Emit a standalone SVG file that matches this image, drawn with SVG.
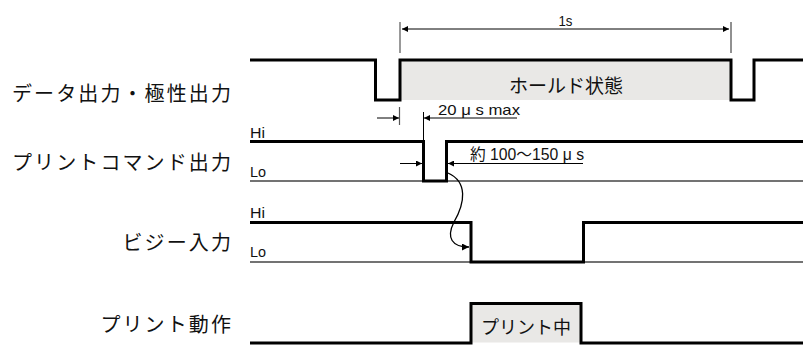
<svg xmlns="http://www.w3.org/2000/svg" width="803" height="347" viewBox="0 0 803 347">
<defs>
<marker id="ah" viewBox="0 0 10 10" refX="10" refY="5" markerWidth="12" markerHeight="6" markerUnits="userSpaceOnUse" orient="auto-start-reverse">
<path d="M0,0 L10,5 L0,10 z" fill="#000"/>
</marker>
<marker id="ah2" viewBox="0 0 10 10" refX="10" refY="5" markerWidth="11" markerHeight="7" markerUnits="userSpaceOnUse" orient="auto">
<path d="M0,0 L10,5 L0,10 z" fill="#000"/>
</marker>
</defs>
<style>
.lbl{font-family:"Noto Sans CJK JP","Noto Sans CJK SC",sans-serif;font-size:20px;fill:#111;text-anchor:end;letter-spacing:2.1px}
.in{font-family:"Noto Sans CJK JP","Noto Sans CJK SC",sans-serif;font-size:18px;fill:#111;text-anchor:middle}
.sm{font-family:"Liberation Sans","Noto Sans CJK JP",sans-serif;font-size:15px;fill:#111}
.sig{fill:none;stroke:#000;stroke-width:3}
.ref{fill:none;stroke:#444;stroke-width:1.5}
.dim{fill:none;stroke:#000;stroke-width:1}
.tick{fill:none;stroke:#555;stroke-width:1.2}
.fill{fill:#e9e8e6;stroke:none}
</style>
<rect width="803" height="347" fill="#fff"/>
<g id="labels">
<text class="lbl" x="233" y="101">データ出力・極性出力</text>
<text class="lbl" x="233" y="170">プリントコマンド出力</text>
<text class="lbl" x="233" y="250">ビジー入力</text>
<text class="lbl" x="233" y="332">プリント動作</text>
</g>
<g id="data-output">
<rect class="fill" x="400" y="60" width="331" height="40"/>
<path class="sig" d="M250,60 H375.5 V100 H400 V60 H731 V100 H754 V60 H803"/>
<text class="in" x="566" y="93" style="font-size:19px">ホールド状態</text>
</g>
<g id="print-command">
<text class="sm" x="250" y="138" textLength="15" lengthAdjust="spacingAndGlyphs">Hi</text>
<text class="sm" x="250" y="177" textLength="16" lengthAdjust="spacingAndGlyphs">Lo</text>
<path class="ref" d="M250,181 H803"/>
<path class="sig" d="M250,141.5 H423.5 V181 H446.5 V141.5 H803"/>
</g>
<g id="busy-input">
<text class="sm" x="250" y="218" textLength="15" lengthAdjust="spacingAndGlyphs">Hi</text>
<text class="sm" x="250" y="257" textLength="16" lengthAdjust="spacingAndGlyphs">Lo</text>
<path class="ref" d="M250,262 H803"/>
<path class="sig" d="M250,222.5 H471 V262 H583.5 V222.5 H803"/>
</g>
<g id="print-operation">
<rect class="fill" x="471" y="303.5" width="110" height="39"/>
<path class="sig" d="M250,343 H471 V303.5 H581 V343 H803"/>
<text class="in" x="526" y="334">プリント中</text>
</g>
<g id="connectors">
<path class="tick" d="M400,22 V53"/>
<path class="dim" d="M731,22 V53" style="stroke:#222"/>
<path class="dim" d="M402,29 H729" marker-start="url(#ah)" marker-end="url(#ah)"/>
<text class="sm" x="565.5" y="26" text-anchor="middle" textLength="14" lengthAdjust="spacingAndGlyphs">1s</text>
<path class="tick" d="M399.5,107 V125"/>
<path class="dim" d="M423.5,112 V141"/>
<path class="dim" d="M377,118 H399" marker-end="url(#ah)"/>
<path class="dim" d="M517,118 H424" marker-end="url(#ah)"/>
<text class="sm" x="438" y="115" textLength="82" lengthAdjust="spacingAndGlyphs">20 μ s max</text>
<path class="dim" d="M400,163.5 H422" marker-end="url(#ah)"/>
<path class="dim" d="M583,163.5 H448" marker-end="url(#ah)"/>
<text class="sm" x="470" y="160" textLength="114" lengthAdjust="spacingAndGlyphs" style="font-size:16px">約 100〜150 μ s</text>
<path class="dim" d="M448,173 C468,182 465,203 454,222 C446,238 452,247 469,247" style="stroke-width:1.3" marker-end="url(#ah2)"/>
</g>
</svg>
